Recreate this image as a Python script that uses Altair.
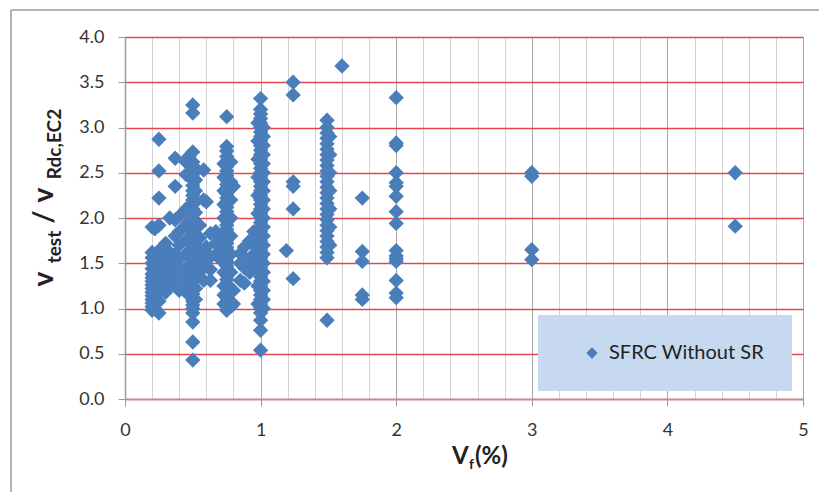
import altair as alt
import pandas as pd

# ---- data (fibre volume %, v_test / v_Rdc,EC2) ----
VF_COLUMNS = [0.20, 0.22, 0.25, 0.30, 0.33, 0.37, 0.40, 0.45, 0.47, 0.50, 0.52,
              0.55, 0.58, 0.60, 0.63, 0.67, 0.70, 0.73, 0.75, 0.78, 0.80, 0.85,
              0.88, 0.92, 0.95, 0.98, 1.00, 1.02, 1.19, 1.24, 1.49, 1.51, 1.60,
              1.75, 2.00, 3.00, 4.50]

RATIO_COLUMNS = [
    [0.98, 1.02, 1.06, 1.10, 1.14, 1.18, 1.22, 1.26, 1.30, 1.34, 1.38, 1.44, 1.50, 1.56, 1.62, 1.90],
    [1.00, 1.05, 1.12, 1.20, 1.28, 1.35, 1.42, 1.48, 1.88],
    [0.95, 1.08, 1.18, 1.27, 1.36, 1.45, 1.52, 1.58, 1.64, 1.92, 2.22, 2.52, 2.87],
    [1.18, 1.28, 1.38, 1.47, 1.55, 1.72],
    [1.25, 1.35, 1.50, 1.62, 2.00],
    [1.30, 1.45, 1.60, 1.80, 1.98, 2.35, 2.66],
    [1.20, 1.32, 1.42, 1.55, 1.70, 1.85, 2.02],
    [1.22, 1.32, 1.45, 1.60, 1.75, 1.92, 2.10, 2.48, 2.62],
    [1.15, 1.28, 1.40, 1.62, 1.78, 1.95, 2.12, 2.68],
    [0.43, 0.63, 0.85, 0.95, 1.00, 1.04, 1.08, 1.12, 1.16, 1.20, 1.25, 1.30, 1.35, 1.40,
     1.45, 1.50, 1.55, 1.60, 1.65, 1.70, 1.75, 1.80, 1.85, 1.90, 1.95, 2.00, 2.05, 2.10,
     2.15, 2.20, 2.25, 2.30, 2.36, 2.42, 2.48, 2.55, 2.62, 2.73, 3.16, 3.25],
    [1.10, 1.22, 1.34, 1.46, 1.58, 1.70, 1.82, 1.94, 2.06, 2.18, 2.30, 2.42, 2.55],
    [1.35, 1.48, 1.62, 1.78, 1.92],
    [1.31, 1.45, 2.20, 2.53],
    [1.55, 1.68, 2.18],
    [1.31, 1.43, 1.57, 1.83],
    [1.60, 1.72, 1.85],
    [1.55, 1.68, 1.80],
    [1.05, 1.15, 1.25, 1.40, 1.55, 1.70, 1.85, 2.00, 2.15, 2.30, 2.45, 2.60],
    [0.98, 1.02, 1.07, 1.12, 1.17, 1.22, 1.27, 1.32, 1.37, 1.42, 1.47, 1.52, 1.57, 1.62,
     1.67, 1.72, 1.77, 1.82, 1.87, 1.92, 1.97, 2.02, 2.07, 2.12, 2.17, 2.22, 2.27, 2.32,
     2.37, 2.42, 2.47, 2.52, 2.57, 2.62, 2.68, 2.74, 2.79, 3.12],
    [1.02, 1.20, 1.40, 1.60, 1.80, 2.00, 2.20, 2.40, 2.62],
    [1.05, 1.20, 2.35],
    [1.31, 1.50, 1.61],
    [1.28, 1.45, 1.68],
    [1.40, 1.55, 1.75],
    [1.45, 1.60, 1.70, 1.85],
    [1.05, 1.25, 1.45, 1.65, 1.85, 2.05, 2.25, 2.45, 2.65, 2.85, 3.05],
    [0.54, 0.76, 0.87, 0.95, 1.00, 1.05, 1.10, 1.15, 1.20, 1.25, 1.30, 1.35, 1.40, 1.45,
     1.50, 1.55, 1.60, 1.65, 1.70, 1.75, 1.80, 1.85, 1.90, 1.95, 2.00, 2.05, 2.10, 2.15,
     2.20, 2.25, 2.30, 2.35, 2.40, 2.45, 2.50, 2.55, 2.60, 2.65, 2.70, 2.75, 2.80, 2.85,
     2.90, 2.95, 3.00, 3.05, 3.10, 3.15, 3.20, 3.32],
    [1.00, 1.10, 1.20, 1.30, 1.40, 1.50, 1.60, 1.70, 1.80, 1.90, 2.00, 2.10, 2.20, 2.30,
     2.40, 2.50, 2.60, 2.70, 2.80, 2.90, 3.00],
    [1.64],
    [1.33, 2.10, 2.35, 2.40, 3.36, 3.50],
    [0.87, 1.56, 1.62, 1.68, 1.74, 1.80, 1.86, 1.92, 1.98, 2.04, 2.10, 2.16, 2.22, 2.28,
     2.34, 2.40, 2.46, 2.52, 2.58, 2.64, 2.70, 2.76, 2.82, 2.88, 2.94, 3.00, 3.08],
    [1.70, 1.90, 2.10, 2.30, 2.50, 2.70, 2.90],
    [3.68],
    [1.10, 1.15, 1.52, 1.63, 2.22],
    [1.12, 1.17, 1.31, 1.52, 1.55, 1.58, 1.64, 1.94, 2.07, 2.24, 2.35, 2.39, 2.50, 2.80, 2.83, 3.33],
    [1.54, 1.65, 2.46, 2.50],
    [1.91, 2.50],
]

SERIES_NAME = "SFRC Without SR"
X_TICKS = [0, 0.2, 0.4, 0.6, 0.8, 1, 1.2, 1.4, 1.6, 1.8, 2, 2.2, 2.4, 2.6, 2.8, 3,
           3.2, 3.4, 3.6, 3.8, 4, 4.2, 4.4, 4.6, 4.8, 5]
Y_TICKS = [0, 0.5, 1, 1.5, 2, 2.5, 3, 3.5, 4]

rows = [{"vf": x, "ratio": y, "series": SERIES_NAME}
        for x, ys in zip(VF_COLUMNS, RATIO_COLUMNS) for y in ys]
df = pd.DataFrame(rows)
one = pd.DataFrame({"k": [0]})

FONT = "Lato"
BLUE = "#4A7EBB"
major = "datum.value % 1 === 0"

points = alt.Chart(df).mark_point(
    shape="diamond", filled=True, size=235, opacity=1, strokeWidth=0
).encode(
    x=alt.X("vf:Q", scale=alt.Scale(domain=[0, 5], nice=False, zero=False),
            axis=alt.Axis(values=X_TICKS, title=None, format="~g",
                          labelExpr=f"{major} ? datum.label : ''",
                          labelFont=FONT, labelFontSize=18, labelColor="#333333",
                          labelPadding=15, labelFlush=False,
                          grid=True,
                          gridColor={"condition": {"test": major, "value": "#A8A8A8"}, "value": "#D2D2D2"},
                          gridWidth=1,
                          domainColor="#9A9A9A", domainWidth=1.5,
                          tickColor="#9A9A9A", tickSize=7,
                          tickOpacity={"condition": {"test": major, "value": 1}, "value": 0})),
    y=alt.Y("ratio:Q", scale=alt.Scale(domain=[0, 4], nice=False),
            axis=alt.Axis(values=Y_TICKS, title=None, format=".1f",
                          labelFont=FONT, labelFontSize=18, labelColor="#333333",
                          labelPadding=14, labelFlush=False,
                          grid=True, gridColor="#E3474D", gridWidth=1.5,
                          domainColor="#9A9A9A", domainWidth=1.5,
                          tickColor="#9A9A9A", tickSize=7)),
    color=alt.Color("series:N", scale=alt.Scale(range=[BLUE]),
                    legend=alt.Legend(title=None, orient="none", legendX=413, legendY=278,
                                      fillColor="#C6D9F0", padding=28,
                                      symbolType="diamond", symbolSize=130,
                                      symbolStrokeWidth=0, symbolOffset=16,
                                      labelFont=FONT, labelFontSize=20, labelColor="#222222",
                                      labelOffset=7, labelLimit=400)),
)

def txt(text, x, y, size, angle=0, align="left"):
    return alt.Chart(one).mark_text(
        text=text, font=FONT, fontSize=size, fontWeight="bold", color="#222222",
        angle=angle, align=align, baseline="alphabetic"
    ).encode(x=alt.value(x), y=alt.value(y))

# x title  V_f(%)
xt = [txt("V", 327, 427, 24), txt("f", 344, 432, 14), txt("(%)", 350, 427, 24)]
# y title  v_test / v_Rdc,EC2 (rotated)
yt = [txt("v", -72, 242, 28, angle=270, align="center"),
      txt("test", -64, 210, 19, angle=270, align="center"),
      txt("/", -72, 180, 28, angle=270, align="center"),
      txt("v", -72, 158, 28, angle=270, align="center"),
      txt("Rdc,EC2", -64, 107, 19, angle=270, align="center")]

frame = [
    alt.Chart(one).mark_rule(color="#9A9A9A", strokeWidth=1.5).encode(
        x=alt.value(-114), y=alt.value(-27), y2=alt.value(480)),
    alt.Chart(one).mark_rule(color="#9A9A9A", strokeWidth=1.5).encode(
        x=alt.value(-114), x2=alt.value(720), y=alt.value(-27)),
]

chart = alt.layer(*frame, points, *xt, *yt).properties(
    width=678, height=362,
    autosize=alt.AutoSizeParams(type="none"),
    padding={"left": 117, "top": 29, "right": 16, "bottom": 93},
    background="white",
).configure_view(stroke=None)

chart.save("out.html", embed_options={"renderer": "svg", "actions": False})
